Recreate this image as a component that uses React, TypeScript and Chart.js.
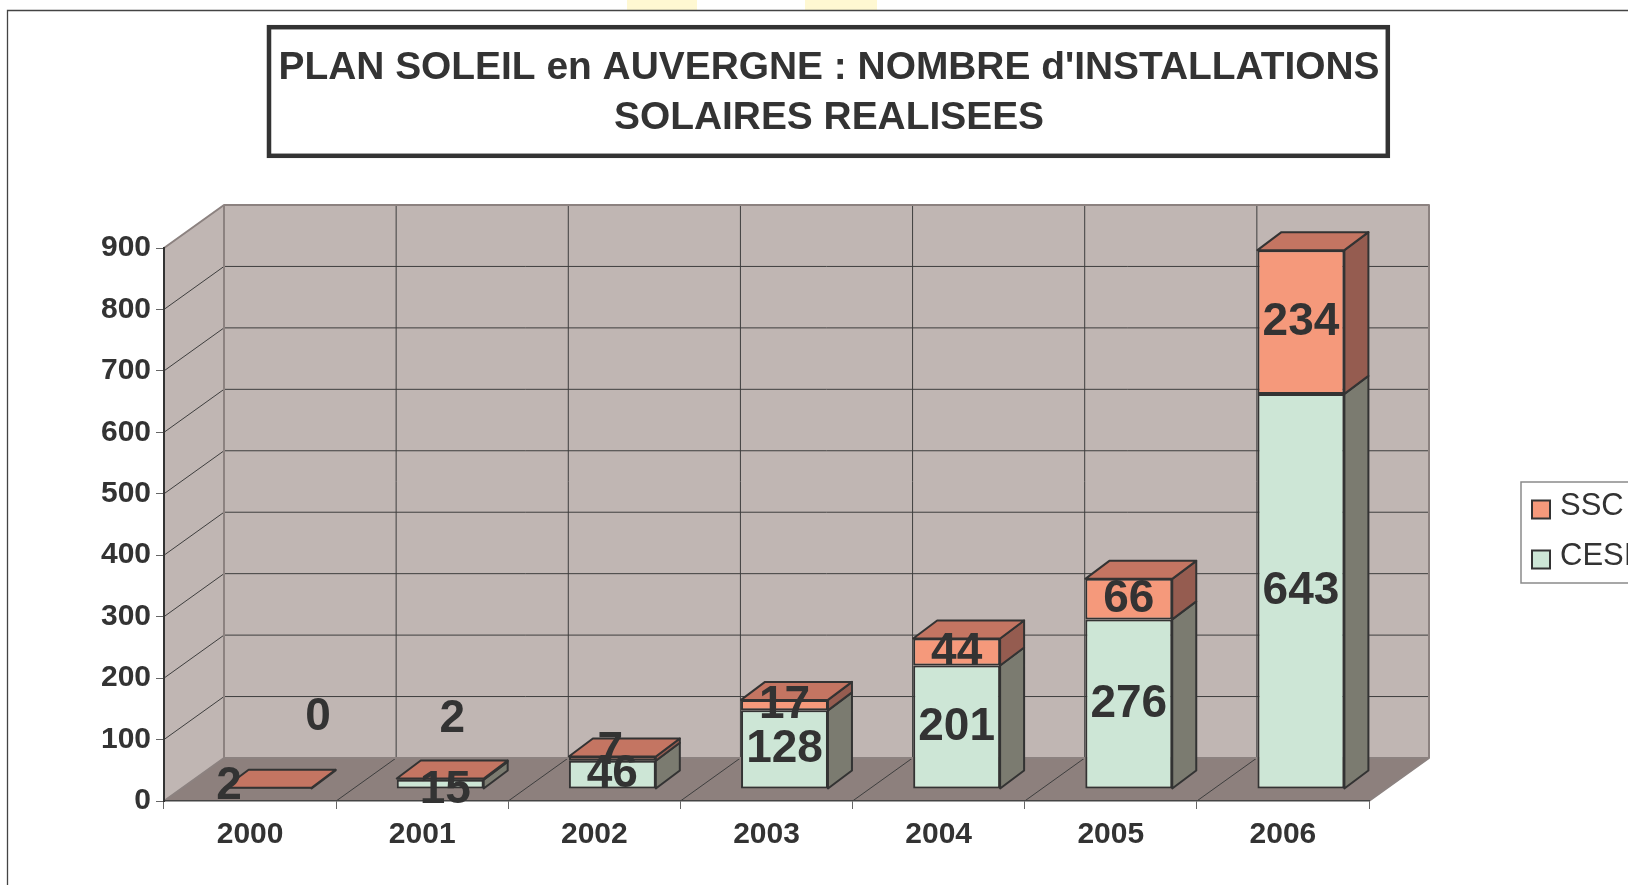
import React, { useEffect, useRef } from 'react';
import { Chart, registerables } from 'chart.js';

Chart.register(...registerables);

// ---------- data ----------
const years = ['2000', '2001', '2002', '2003', '2004', '2005', '2006'];
const cesiValues = [2, 15, 46, 128, 201, 276, 643];
const sscValues = [0, 2, 7, 17, 44, 66, 234];
const seriesNames = ['CESI', 'SSC'];
const legendOrder = ['SSC', 'CESI'];
const titleLines = ["PLAN SOLEIL en AUVERGNE : NOMBRE d'INSTALLATIONS", 'SOLAIRES REALISEES'];
const yMin = 0;
const yMax = 900;
const yStep = 100;

// ---------- style ----------
const FONT = '"Liberation Sans", Arial, Helvetica, sans-serif';
const INK = '#333333';
const frontColors = ['#CDE6D6', '#F5997B'];
const sideColors = ['#7B7B70', '#955C50'];
const topColors = ['#A9BFB1', '#C47562'];
const WALL = '#C0B6B3';
const FLOOR = '#8D807D';
const EDGE = '#8C8280';
const GRID = '#3E3E3E';

// 3D geometry (pixels)
const DEPTH = { x: 60, y: -43 };
const BAR_SHIFT = { x: 18, y: -12 };
const BAR_DEPTH = { x: 24, y: -18 };

// label nudges for tiny segments (datasetIndex-dataIndex), mimicking the original placement
const LABEL_NUDGE: Record<string, [number, number]> = {
  '0-0': [-39, -2],
  '1-0': [50, -70],
  '0-1': [5, 6],
  '1-1': [12, -60],
  '1-2': [-2, -7],
};

function poly(ctx: CanvasRenderingContext2D, pts: number[][]) {
  ctx.beginPath();
  ctx.moveTo(pts[0][0], pts[0][1]);
  for (let i = 1; i < pts.length; i++) ctx.lineTo(pts[i][0], pts[i][1]);
  ctx.closePath();
}
function line(ctx: CanvasRenderingContext2D, x1: number, y1: number, x2: number, y2: number) {
  ctx.beginPath();
  ctx.moveTo(x1, y1);
  ctx.lineTo(x2, y2);
  ctx.stroke();
}

const chart3d = {
  id: 'chart3d',
  beforeDraw(chart: any) {
    const ctx: CanvasRenderingContext2D = chart.ctx;
    const { left, right, top, bottom } = chart.chartArea;
    const xs = chart.scales.x;
    const ys = chart.scales.y;
    ctx.save();
    ctx.fillStyle = '#ffffff';
    ctx.fillRect(0, 0, chart.width, chart.height);

    // small yellow marks at top edge
    ctx.fillStyle = '#FFF8D2';
    ctx.fillRect(627, 0, 70, 10);
    ctx.fillRect(805, 0, 72, 10);

    // outer frame
    ctx.strokeStyle = '#444444';
    ctx.lineWidth = 1.3;
    ctx.beginPath();
    ctx.moveTo(7.5, chart.height);
    ctx.lineTo(7.5, 10.5);
    ctx.lineTo(chart.width, 10.5);
    ctx.stroke();

    // title box + text
    ctx.strokeStyle = '#333333';
    ctx.lineWidth = 4.5;
    ctx.strokeRect(269, 27.2, 1118.8, 128.6);
    ctx.fillStyle = INK;
    ctx.font = `bold 38.9px ${FONT}`;
    ctx.textAlign = 'center';
    ctx.textBaseline = 'middle';
    titleLines.forEach((t, i) => ctx.fillText(t, 829, 68 + i * 50));

    // walls and floor
    const bx = left + DEPTH.x;
    const br = right + DEPTH.x;
    const bt = top + DEPTH.y;
    const bb = bottom + DEPTH.y;
    ctx.fillStyle = WALL;
    poly(ctx, [[left, top], [bx, bt], [bx, bb], [left, bottom]]);
    ctx.fill();
    ctx.fillRect(bx, bt, br - bx, bb - bt);
    ctx.fillStyle = FLOOR;
    poly(ctx, [[left, bottom], [right, bottom], [br, bb], [bx, bb]]);
    ctx.fill();

    // grid lines
    ctx.strokeStyle = GRID;
    ctx.lineWidth = 1;
    for (let v = yMin + yStep; v < yMax; v += yStep) {
      const py = ys.getPixelForValue(v);
      line(ctx, left, py, bx, py + DEPTH.y);
      line(ctx, bx, py + DEPTH.y, br, py + DEPTH.y);
    }
    for (let i = 1; i < years.length; i++) {
      const px = (xs.getPixelForValue(i - 1) + xs.getPixelForValue(i)) / 2;
      line(ctx, px + DEPTH.x, bt, px + DEPTH.x, bb);
      line(ctx, px, bottom, px + DEPTH.x, bb);
    }

    // wall edges
    ctx.strokeStyle = EDGE;
    ctx.lineWidth = 2;
    ctx.lineJoin = 'round';
    ctx.beginPath();
    ctx.moveTo(left, top);
    ctx.lineTo(bx, bt);
    ctx.lineTo(br, bt);
    ctx.lineTo(br, bb);
    ctx.lineTo(right, bottom);
    ctx.stroke();
    line(ctx, bx, bt, bx, bb);
    ctx.beginPath();
    ctx.moveTo(left, bottom);
    ctx.lineTo(bx, bb);
    ctx.lineTo(br, bb);
    ctx.stroke();
    ctx.restore();
  },
  beforeDatasetsDraw(chart: any) {
    chart.ctx.save();
    chart.ctx.translate(BAR_SHIFT.x, BAR_SHIFT.y);
  },
  afterDatasetsDraw(chart: any) {
    const ctx: CanvasRenderingContext2D = chart.ctx;
    ctx.lineWidth = 2;
    ctx.lineJoin = 'round';
    ctx.strokeStyle = INK;
    const metas = chart.getSortedVisibleDatasetMetas();
    // side faces
    metas.forEach((meta: any) => {
      const di = meta.index;
      meta.data.forEach((el: any) => {
        const { x, y, base, width } = el.getProps(['x', 'y', 'base', 'width'], true);
        const r = x + width / 2;
        const t = Math.min(y, base);
        const b = Math.max(y, base);
        if (b - t < 0.01) return;
        ctx.fillStyle = sideColors[di];
        poly(ctx, [[r, t], [r + BAR_DEPTH.x, t + BAR_DEPTH.y], [r + BAR_DEPTH.x, b + BAR_DEPTH.y], [r, b]]);
        ctx.fill();
        ctx.stroke();
      });
    });
    // top faces (top of each stack)
    const last = metas[metas.length - 1];
    last.data.forEach((el: any) => {
      const { x, y, width } = el.getProps(['x', 'y', 'width'], true);
      const l = x - width / 2;
      const r = x + width / 2;
      ctx.fillStyle = topColors[last.index];
      poly(ctx, [[l, y], [l + BAR_DEPTH.x, y + BAR_DEPTH.y], [r + BAR_DEPTH.x, y + BAR_DEPTH.y], [r, y]]);
      ctx.fill();
      ctx.stroke();
    });
    // value labels
    ctx.fillStyle = INK;
    ctx.font = `bold 46px ${FONT}`;
    ctx.textAlign = 'center';
    ctx.textBaseline = 'middle';
    metas.forEach((meta: any) => {
      const di = meta.index;
      const values = chart.data.datasets[di].data;
      meta.data.forEach((el: any, i: number) => {
        const { x, y, base } = el.getProps(['x', 'y', 'base'], true);
        const n = LABEL_NUDGE[`${di}-${i}`] || [0, 0];
        ctx.fillText(String(values[i]), x + n[0], (y + base) / 2 + n[1]);
      });
    });
    ctx.restore();
  },
  afterDraw(chart: any) {
    const ctx: CanvasRenderingContext2D = chart.ctx;
    ctx.save();
    // legend (box runs past the right edge, as in the original)
    ctx.strokeStyle = '#8A8A8A';
    ctx.lineWidth = 1.5;
    ctx.strokeRect(1521, 482, 140, 101);
    legendOrder.forEach((name, k) => {
      const di = seriesNames.indexOf(name);
      const cy = 509.5 + k * 50;
      ctx.fillStyle = frontColors[di];
      ctx.fillRect(1532, cy - 9, 18, 18);
      ctx.strokeStyle = INK;
      ctx.lineWidth = 2;
      ctx.strokeRect(1532, cy - 9, 18, 18);
      ctx.fillStyle = INK;
      ctx.font = `31px ${FONT}`;
      ctx.textAlign = 'left';
      ctx.textBaseline = 'middle';
      ctx.fillText(name, 1560, cy - 3);
    });
    ctx.restore();
  },
};

export default function App() {
  const ref = useRef<HTMLCanvasElement>(null);
  useEffect(() => {
    const canvas = ref.current;
    if (!canvas) return;
    const tickFont = { family: FONT, size: 30, weight: 'bold' as const };
    const chart = new Chart(canvas, {
      type: 'bar',
      data: {
        labels: years,
        datasets: [
          {
            label: seriesNames[0],
            data: cesiValues,
            backgroundColor: frontColors[0],
            borderColor: INK,
            borderWidth: 2,
            borderSkipped: false,
            categoryPercentage: 1,
            barPercentage: 0.505,
            clip: false,
          } as any,
          {
            label: seriesNames[1],
            data: sscValues,
            backgroundColor: frontColors[1],
            borderColor: INK,
            borderWidth: 2,
            borderSkipped: false,
            categoryPercentage: 1,
            barPercentage: 0.505,
            clip: false,
          } as any,
        ],
      },
      options: {
        responsive: false,
        devicePixelRatio: 1,
        animation: false,
        layout: { padding: { left: 0, top: 248, right: 259, bottom: 0 } },
        plugins: {
          legend: { display: false },
          title: { display: false },
          tooltip: { enabled: false },
        },
        scales: {
          x: {
            stacked: true,
            offset: true,
            grid: { display: true, drawOnChartArea: false, drawTicks: true, tickLength: 8, color: '#666666', offset: true },
            border: { display: true, color: '#444444', width: 1.5 },
            ticks: { font: tickFont, color: INK, padding: 8, maxRotation: 0, autoSkip: false },
            afterFit: (s: any) => { s.height = 84; },
          },
          y: {
            stacked: true,
            min: yMin,
            max: yMax,
            grid: { display: true, drawOnChartArea: false, drawTicks: true, tickLength: 8, color: '#666666' },
            border: { display: true, color: '#333333', width: 2 },
            ticks: { stepSize: yStep, font: tickFont, color: INK, padding: 5 },
            afterFit: (s: any) => { s.width = 164; },
          },
        },
      } as any,
      plugins: [chart3d],
    });
    return () => chart.destroy();
  }, []);
  return (
    <div style={{ position: 'fixed', left: 0, top: 0, width: 1628, height: 885, background: '#fff' }}>
      <canvas ref={ref} width={1628} height={885} style={{ display: 'block', width: 1628, height: 885 }} />
    </div>
  );
}
